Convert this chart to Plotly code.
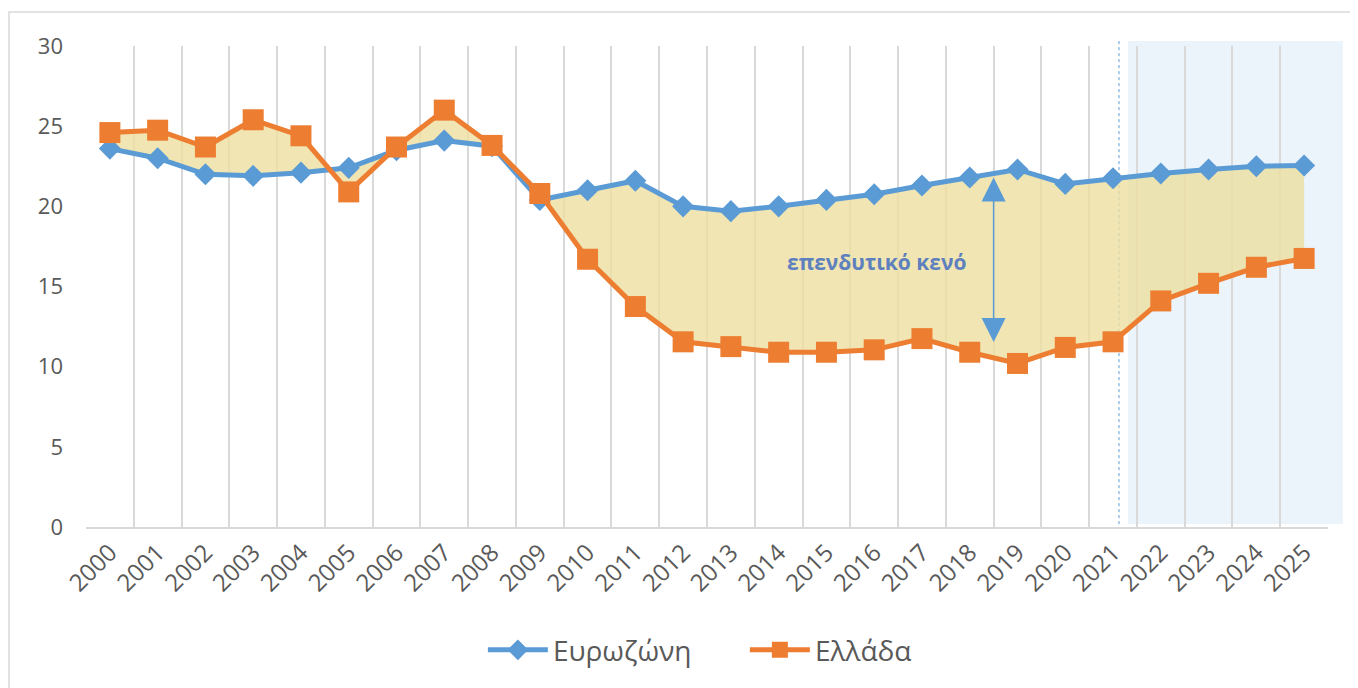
import plotly.graph_objects as go

years = [str(y) for y in range(2000, 2026)]
eurozone = [23.6, 23.0, 22.0, 21.9, 22.1, 22.4, 23.5, 24.1, 23.75, 20.4, 21.0, 21.6, 20.0,
            19.7, 20.0, 20.4, 20.75, 21.3, 21.8, 22.3, 21.4, 21.75, 22.05, 22.3, 22.5, 22.55]
greece = [24.6, 24.75, 23.7, 25.4, 24.4, 20.9, 23.7, 26.0, 23.8, 20.8, 16.7, 13.75, 11.55,
          11.25, 10.9, 10.9, 11.05, 11.75, 10.9, 10.2, 11.2, 11.55, 14.1, 15.2, 16.2, 16.75]
series_names = ["Ευρωζώνη", "Ελλάδα"]
gap_label = "επενδυτικό κενό"
gap_arrow_top = 21.8
gap_arrow_bottom = 11.45

BLUE = "#5B9BD5"
ORANGE = "#ED7D31"
GRID = "#D9D9D9"
TXT = "#595959"
FONT = "Open Sans"

fig = go.Figure()
# fill between the two series
fig.add_trace(go.Scatter(x=years, y=eurozone, mode="lines", line=dict(width=0, color=BLUE),
                         showlegend=False, hoverinfo="skip"))
fig.add_trace(go.Scatter(x=years, y=greece, mode="lines", line=dict(width=0, color=ORANGE),
                         fill="tonexty", fillcolor="rgba(236,222,160,0.8)",
                         showlegend=False, hoverinfo="skip"))
# visible series
fig.add_trace(go.Scatter(x=years, y=eurozone, name=series_names[0], mode="lines+markers",
                         line=dict(color=BLUE, width=5),
                         marker=dict(symbol="diamond", size=17, color=BLUE)))
fig.add_trace(go.Scatter(x=years, y=greece, name=series_names[1], mode="lines+markers",
                         line=dict(color=ORANGE, width=5),
                         marker=dict(symbol="square", size=21, color=ORANGE)))

# forecast shading (2022-2025)
fig.add_shape(type="rect", xref="paper", yref="paper", x0=0.839, x1=1.012, y0=0.006, y1=1.0104,
              fillcolor="#EBF3FB", line=dict(width=0), layer="below")
fig.add_shape(type="line", xref="paper", yref="paper", x0=0.8317, x1=0.8317, y0=0.006, y1=1.0104,
              line=dict(color=BLUE, width=1, dash="dot"), layer="below")
# outer chart frame
fig.add_shape(type="rect", xref="paper", yref="paper", x0=-0.062, x1=1.1, y0=-0.5, y1=1.0707,
              fillcolor="rgba(0,0,0,0)", line=dict(color=GRID, width=1.5), layer="below")

# gap arrow
fig.add_annotation(x=18.5, y=gap_arrow_top, ax=18.5, ay=gap_arrow_bottom, xref="x", yref="y",
                   axref="x", ayref="y", text="", showarrow=True, arrowside="end+start",
                   arrowhead=2, startarrowhead=2, arrowsize=3.2, startarrowsize=3.2,
                   arrowwidth=1.5, arrowcolor=BLUE, standoff=0, startstandoff=0)
fig.add_annotation(x=16.05, y=16.55, xref="x", yref="y", text="<b>" + gap_label + "</b>",
                   showarrow=False, font=dict(family=FONT, size=21, color="#5E80BE"))

fig.update_layout(
    width=1350, height=680,
    margin=dict(l=78, r=30, t=38, b=161),
    paper_bgcolor="white", plot_bgcolor="rgba(0,0,0,0)",
    font=dict(family=FONT, color=TXT),
    showlegend=True,
    legend=dict(orientation="h", traceorder="normal", x=0.5305, xanchor="center", y=-0.256,
                yanchor="middle", font=dict(family=FONT, size=28, color=TXT),
                entrywidth=187, entrywidthmode="pixels", itemwidth=60,
                bgcolor="rgba(0,0,0,0)"),
    xaxis=dict(type="category", range=[-0.5, 25.5], tickson="boundaries", showgrid=True,
               gridcolor=GRID, gridwidth=2, showline=True, linecolor=GRID, linewidth=2,
               ticks="", tickangle=-45, ticklabelstandoff=0,
               tickfont=dict(family=FONT, size=24, color=TXT), zeroline=False),
    yaxis=dict(range=[0, 30], dtick=5, showgrid=False, zeroline=False, showline=False,
               ticks="", ticklabelstandoff=22, tickfont=dict(family=FONT, size=22, color=TXT)),
)

fig.write_html("out.html")
